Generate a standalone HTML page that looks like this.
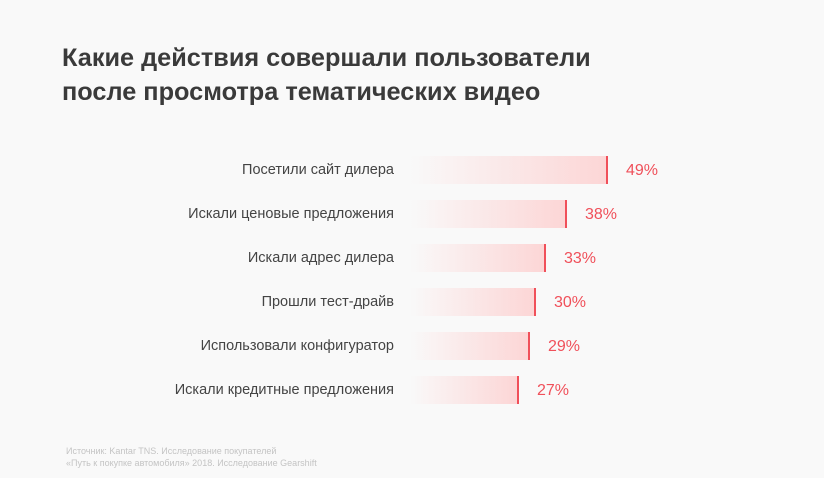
<!DOCTYPE html>
<html><head><meta charset="utf-8"><style>
body{margin:0;width:824px;height:478px;background:#f9f9f9;font-family:"Liberation Sans",sans-serif;position:relative;overflow:hidden}
h1{position:absolute;left:62px;top:41px;margin:0;font-size:25.3px;line-height:34px;font-weight:bold;color:#3a3a3a}
.row{position:absolute;left:0;width:824px;height:28px}
.lab{position:absolute;right:430px;top:0;line-height:28px;font-size:14.5px;color:#444;white-space:nowrap}
.bar{position:absolute;left:410px;top:0;height:28px;background:linear-gradient(to right,rgba(252,215,215,0),#fcd6d6);border-right:2px solid #f0505a;box-sizing:border-box}
.pct{position:absolute;top:1px;line-height:28px;font-size:16px;color:#f0505a}
.src{position:absolute;left:66px;top:445px;font-size:9px;line-height:12px;color:#c4c4c4}
</style></head><body>
<h1>Какие действия совершали пользователи<br>после просмотра тематических видео</h1>
<div class="row" style="top:156px"><div class="lab">Посетили сайт дилера</div><div class="bar" style="width:198px"></div><div class="pct" style="left:626px">49%</div></div>
<div class="row" style="top:200px"><div class="lab">Искали ценовые предложения</div><div class="bar" style="width:157px"></div><div class="pct" style="left:585px">38%</div></div>
<div class="row" style="top:244px"><div class="lab">Искали адрес дилера</div><div class="bar" style="width:136px"></div><div class="pct" style="left:564px">33%</div></div>
<div class="row" style="top:288px"><div class="lab">Прошли тест-драйв</div><div class="bar" style="width:126px"></div><div class="pct" style="left:554px">30%</div></div>
<div class="row" style="top:332px"><div class="lab">Использовали конфигуратор</div><div class="bar" style="width:120px"></div><div class="pct" style="left:548px">29%</div></div>
<div class="row" style="top:376px"><div class="lab">Искали кредитные предложения</div><div class="bar" style="width:109px"></div><div class="pct" style="left:537px">27%</div></div>
<div class="src">Источник: Kantar TNS. Исследование покупателей<br>«Путь к покупке автомобиля» 2018. Исследование Gearshift</div>
</body></html>
